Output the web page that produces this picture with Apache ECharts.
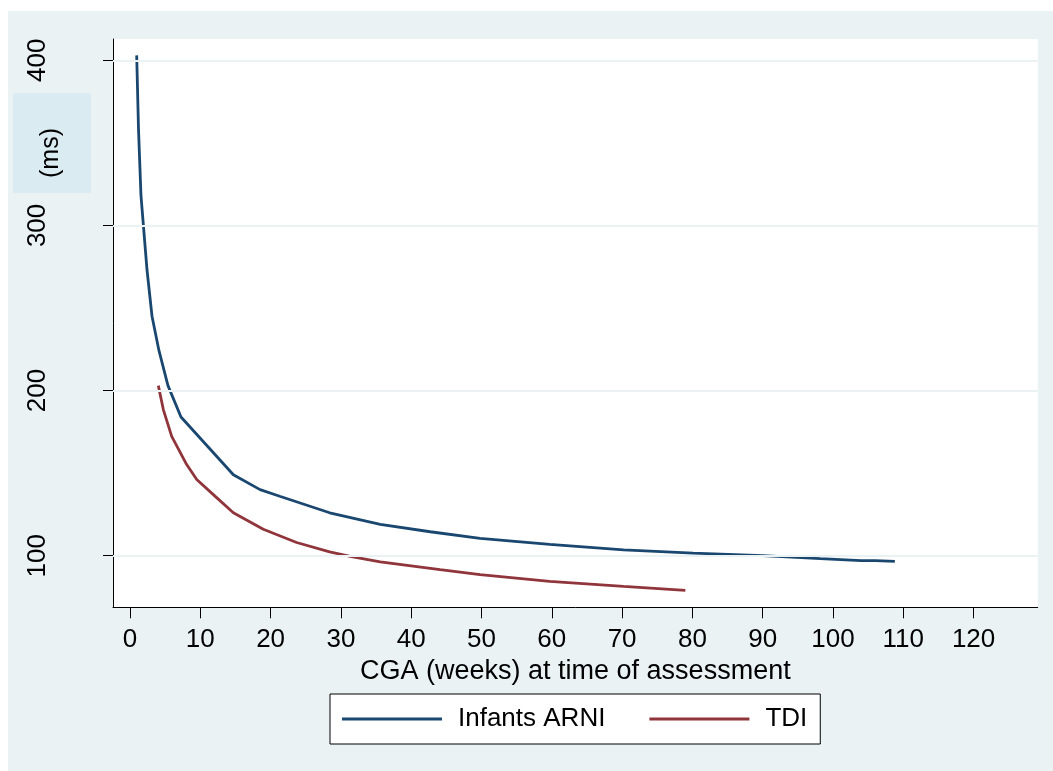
<!DOCTYPE html>
<html>
<head>
<meta charset="utf-8">
<script src="https://cdn.jsdelivr.net/npm/echarts@6/dist/echarts.min.js"></script>
<style>
html,body{margin:0;padding:0;background:#ffffff;}
#chart{width:1053px;height:771px;}
</style>
</head>
<body>
<div id="chart"></div>
<script>
// ---- data ----
const xTicks = [0,10,20,30,40,50,60,70,80,90,100,110,120];
const yTicks = [100,200,300,400];
const seriesNames = ['Infants ARNI','TDI'];
const arniWeeks = [0.95,1.21,1.56,2.42,3.13,4.13,5.4,7.25,14.7,18.5,21.3,28.4,35.6,42.7,49.8,59.7,70.2,80.1,90,98.2,104,106,108.8];
const arniMs    = [403,358,318,273,245,224,203,184,149,140,136,126,119,114.5,110.5,106.8,103.5,101.5,100,98.2,97,97,96.5];
const tdiWeeks  = [4.03,4.74,5.93,8.06,9.49,11.85,14.7,18.96,23.7,28.4,31.5,35.6,44.1,49.8,59.7,70.2,79];
const tdiMs     = [203,188.5,172.3,155.2,146.1,137,126,116,108,102.3,99.5,96.3,91.5,88.5,84.4,81.4,79];
const xTitle = 'CGA (weeks) at time of assessment';
const yTitle = '(ms)';

const pairs = (xs, ys) => xs.map((x, i) => [x, ys[i]]);
const FONT = '"Liberation Sans", Arial, sans-serif';

const chart = echarts.init(document.getElementById('chart'), null, {renderer:'canvas'});
chart.setOption({
  backgroundColor: '#ffffff',
  animation: false,
  graphic: [
    {type:'rect', z:-10, shape:{x:8, y:11, width:1045, height:760}, style:{fill:'#eaf2f3'}},
    {type:'rect', z:-9, shape:{x:13, y:93, width:78, height:100}, style:{fill:'#dbebf2'}},
    {type:'text', z:5, x:51, y:153, rotation:Math.PI/2,
     style:{text:yTitle, font:'25px ' + FONT, fill:'#000', align:'center', verticalAlign:'middle'}}
  ],
  grid: {left:113, top:39, right:15.3, bottom:163.7, show:true, backgroundColor:'#ffffff', borderWidth:0},
  legend: {
    data: seriesNames.map(n => ({name:n, icon:'rect'})),
    left: 330, top: 694,
    padding: [12,13,12,12],
    itemGap: 44,
    itemWidth: 100, itemHeight: 2.8,
    backgroundColor: '#ffffff',
    borderColor: '#000000', borderWidth: 1,
    textStyle: {fontFamily: FONT, fontSize: 26, color:'#000', padding:[0,0,0,11], lineHeight:26},
    selectedMode: false
  },
  xAxis: {
    type: 'value', min: -2.42, max: 129.12,
    name: xTitle, nameLocation: 'middle', nameGap: 40.5,
    nameTextStyle: {fontFamily: FONT, fontSize: 27, color:'#000'},
    axisLine: {show:true, onZero:false, lineStyle:{color:'#000', width:1}},
    axisTick: {show:true, length:11, customValues: xTicks, lineStyle:{color:'#000', width:1}},
    axisLabel: {customValues: xTicks, fontFamily: FONT, fontSize: 26, color:'#000', margin: 20},
    splitLine: {show:false}
  },
  yAxis: {
    type: 'value', min: 68.75, max: 412.9,
    axisLine: {show:true, onZero:false, lineStyle:{color:'#000', width:1}},
    axisTick: {show:true, length:10, customValues: yTicks, lineStyle:{color:'#000', width:1}},
    axisLabel: {customValues: yTicks, fontFamily: FONT, fontSize: 26, color:'#000', rotate: 90, margin: 62},
    splitLine: {show:false}
  },
  series: [
    {
      name: 'grid', type: 'line', data: [], z: 1, silent: true,
      markLine: {
        silent: true, symbol: ['none','none'], animation:false,
        label: {show:false},
        lineStyle: {color:'#eaf2f3', width:2, type:'solid'},
        emphasis: {disabled:true},
        data: yTicks.map(v => ({yAxis: v}))
      }
    },
    {
      name: seriesNames[0], type: 'line', z: 3,
      data: pairs(arniWeeks, arniMs),
      symbol: 'none', smooth: false,
      lineStyle: {color:'#1a476f', width:2.8}, itemStyle:{color:'#1a476f'},
      emphasis:{disabled:true}
    },
    {
      name: seriesNames[1], type: 'line', z: 3,
      data: pairs(tdiWeeks, tdiMs),
      symbol: 'none', smooth: false,
      lineStyle: {color:'#90353b', width:2.8}, itemStyle:{color:'#90353b'},
      emphasis:{disabled:true}
    }
  ]
});
</script>
</body>
</html>
